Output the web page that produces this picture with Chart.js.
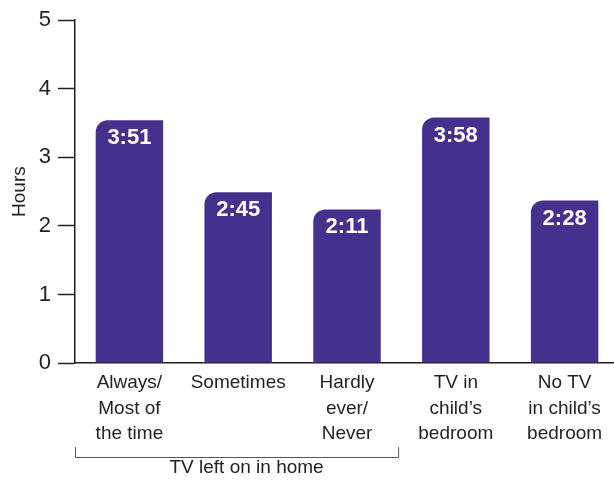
<!DOCTYPE html>
<html>
<head>
<meta charset="utf-8">
<script src="https://cdn.jsdelivr.net/npm/chart.js@4/dist/chart.umd.min.js"></script>
<style>
  html, body { margin: 0; padding: 0; background: #ffffff; overflow: hidden; }
  #wrap { position: relative; width: 619px; height: 484px; }
</style>
</head>
<body>
<div id="wrap"><canvas id="c"></canvas></div>
<script>
const categories = [
  ['Always/', 'Most of', 'the time'],
  ['Sometimes'],
  ['Hardly', 'ever/', 'Never'],
  ['TV in', 'child\u2019s', 'bedroom'],
  ['No TV', 'in child\u2019s', 'bedroom']
];
const hours = [3.54, 2.49, 2.24, 3.58, 2.37];
const barLabels = ['3:51', '2:45', '2:11', '3:58', '2:28'];
const yTicks = [0, 1, 2, 3, 4, 5];
const groupLabel = 'TV left on in home';
const yTitle = 'Hours';

const FONT = "'Liberation Sans', Arial, sans-serif";
const PURPLE = '#46308e';
const INK = '#231f20';

const barLabelPlugin = {
  id: 'barLabels',
  afterDatasetsDraw(chart) {
    const ctx = chart.ctx;
    const meta = chart.getDatasetMeta(0);
    ctx.save();
    ctx.fillStyle = '#ffffff';
    ctx.font = "bold 22px " + FONT;
    ctx.textAlign = 'center';
    ctx.textBaseline = 'middle';
    meta.data.forEach((bar, i) => {
      ctx.fillText(barLabels[i], bar.x, bar.y + 18);
    });
    ctx.restore();
  }
};

const bracketPlugin = {
  id: 'bracket',
  afterDraw(chart) {
    const ctx = chart.ctx;
    const xs = chart.scales.x;
    const left = chart.chartArea.left;
    const right = xs.getPixelForValue(2) + (xs.getPixelForValue(3) - xs.getPixelForValue(2)) * 0.47;
    const yTop = 447, yBot = 457;
    ctx.save();
    ctx.strokeStyle = '#555555';
    ctx.lineWidth = 1;
    ctx.beginPath();
    ctx.moveTo(left + 0.5, yTop);
    ctx.lineTo(left + 0.5, yBot + 0.5);
    ctx.lineTo(right + 0.5, yBot + 0.5);
    ctx.lineTo(right + 0.5, yTop);
    ctx.stroke();
    ctx.fillStyle = INK;
    ctx.font = "19px " + FONT;
    ctx.textAlign = 'center';
    ctx.textBaseline = 'middle';
    ctx.fillText(groupLabel, (left + right) / 2 + 10, 468);
    ctx.restore();
  }
};

new Chart(document.getElementById('c'), {
  type: 'bar',
  data: {
    labels: categories,
    datasets: [{
      data: hours,
      backgroundColor: PURPLE,
      borderWidth: 0,
      borderSkipped: 'bottom',
      borderRadius: { topLeft: 12, topRight: 0, bottomLeft: 0, bottomRight: 0 },
      barPercentage: 0.62,
      categoryPercentage: 1.0
    }]
  },
  options: {
    responsive: true,
    maintainAspectRatio: false,
    animation: false,
    layout: { padding: { top: 18, right: 0, bottom: 0, left: 0 } },
    plugins: {
      legend: { display: false },
      tooltip: { enabled: false }
    },
    scales: {
      x: {
        grid: { display: true, drawOnChartArea: false, drawTicks: false },
        border: { display: true, color: INK, width: 1.5 },
        ticks: {
          color: INK,
          font: { family: FONT, size: 19, lineHeight: 1.35 },
          padding: 7,
          maxRotation: 0,
          autoSkip: false
        },
        afterFit(scale) { scale.height = 121; }
      },
      y: {
        min: 0,
        max: 5,
        afterBuildTicks(scale) { scale.ticks = yTicks.map(v => ({ value: v })); },
        grid: { display: true, drawOnChartArea: false, drawTicks: true, tickLength: 17, color: INK, tickWidth: 1.5 },
        border: { display: true, color: INK, width: 1.5 },
        ticks: {
          color: INK,
          font: { family: FONT, size: 22 },
          padding: 7
        },
        title: {
          display: true,
          text: yTitle,
          color: INK,
          font: { family: FONT, size: 19 },
          padding: { top: 8, bottom: 0 }
        },
        afterFit(scale) { scale.width = 75; }
      }
    }
  },
  plugins: [barLabelPlugin, bracketPlugin]
});
</script>
</body>
</html>
